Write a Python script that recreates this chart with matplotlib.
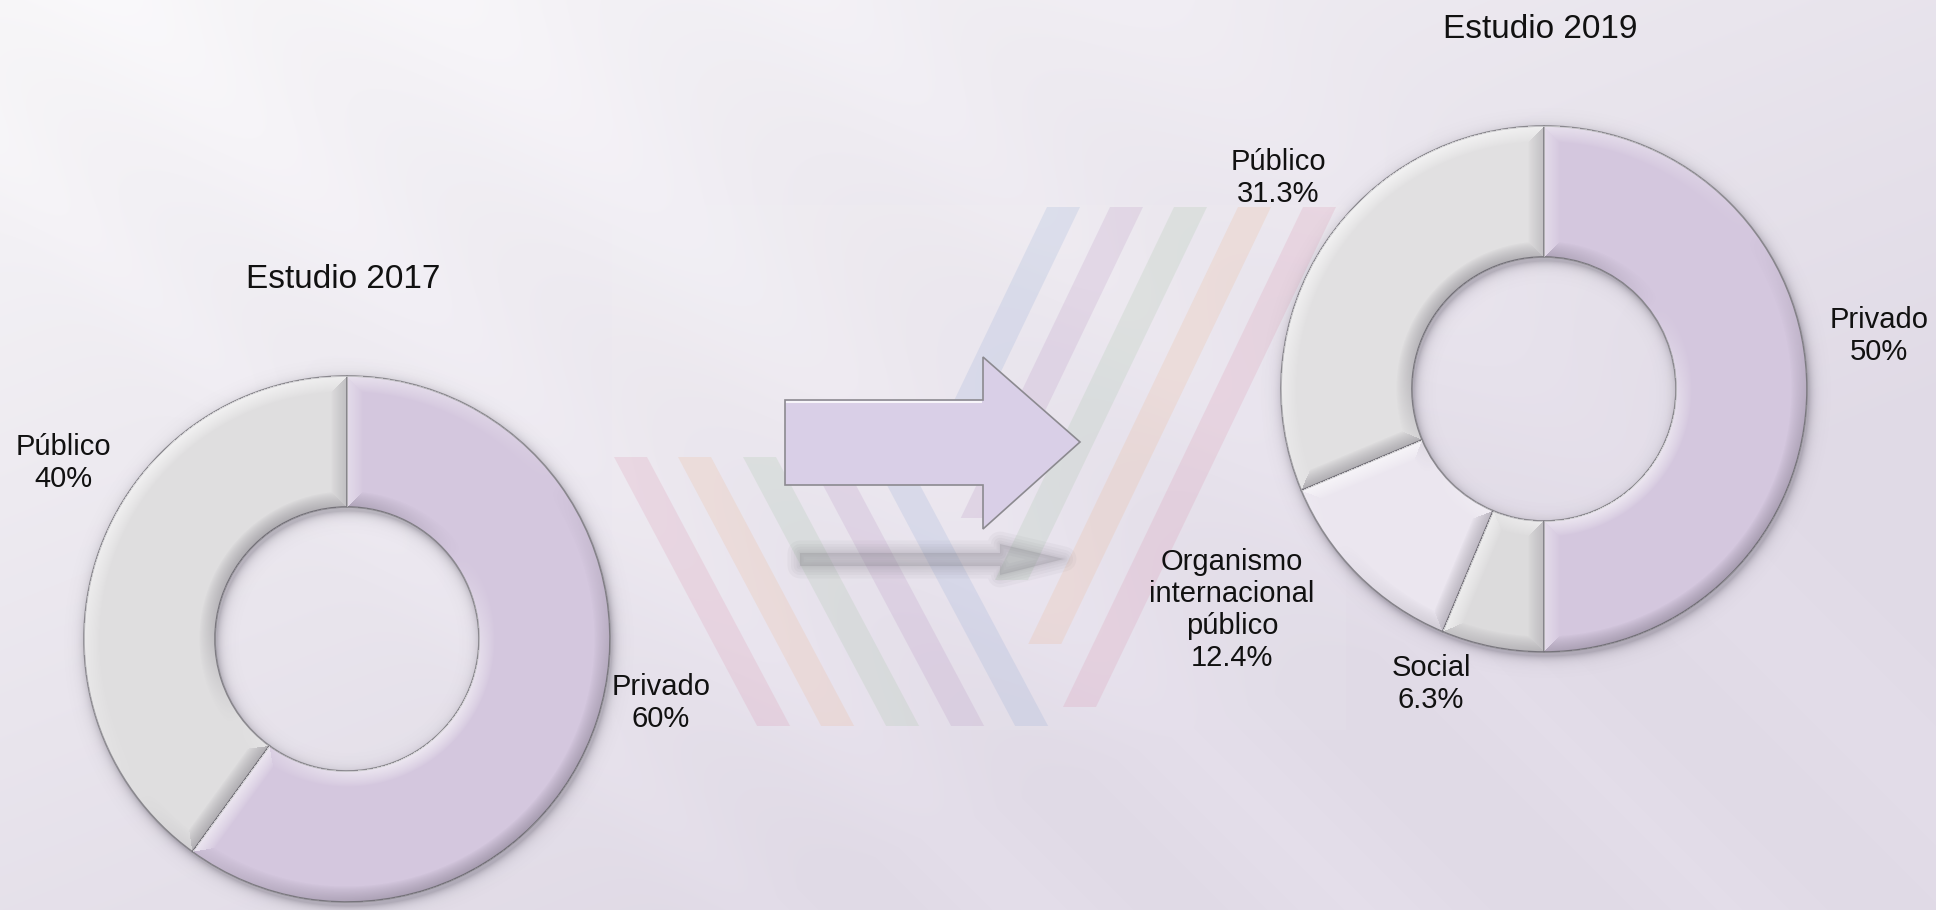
import numpy as np
import matplotlib
matplotlib.use("Agg")
import matplotlib.pyplot as plt
from matplotlib.patches import Polygon, Rectangle

W, H = 1936, 910

# shares by sector, per survey
cats_2017 = ["Privado", "Público"]
vals_2017 = [60, 40]
cats_2019 = ["Privado", "Social", "Organismo\ninternacional\npúblico", "Público"]
vals_2019 = [50, 6.3, 12.4, 31.3]
titles = ["Estudio 2017", "Estudio 2019"]

colors_2017 = ["#d4c7de", "#dfdedf"]
colors_2019 = ["#d4c7de", "#dcdbdc", "#ebe6ef", "#e1e0e1"]

# pastel stripe colours of the background motif
stripe_cols = [(0.85, 0.50, 0.62), (0.94, 0.67, 0.47), (0.58, 0.74, 0.58),
               (0.68, 0.50, 0.72), (0.50, 0.62, 0.82)]

plt.rcParams["font.family"] = ["Liberation Sans", "DejaVu Sans"]

fig = plt.figure(figsize=(W / 100, H / 100), dpi=100)
ax = fig.add_axes([0, 0, 1, 1])


def Y(y):
    # pixel rows run downwards, axes run upwards
    return H - y


# background: soft gradient with light diagonal sheen
yy, xx = np.mgrid[0:H, 0:W]
t = np.clip(0.65 * xx / W + 0.75 * yy / H, 0, 1)
c_top = np.array([247, 246, 248]) / 255
c_bot = np.array([224, 218, 230]) / 255
bg = c_top + (c_bot - c_top) * t[..., None]
d = yy - 1.0 * xx
for d0, w, a in [(-120, 90, 0.014), (-450, 110, 0.016), (-820, 90, 0.012),
                 (150, 60, 0.01), (-1150, 120, 0.01)]:
    bg += a * np.exp(-((d - d0) / w) ** 2)[..., None]
ax.imshow(np.clip(bg, 0, 1), extent=(0, W, 0, H), origin="upper", zorder=0, aspect="auto")

# faint backing panel of the stripe motif
ax.add_patch(Rectangle((612, Y(730)), 734, 525, facecolor="white", edgecolor="none",
                       alpha=0.06, zorder=1))


def stripe(x_top, y_top, y_bot, dx_per_px, width, col):
    h = y_bot - y_top
    pts = [(x_top, Y(y_top)), (x_top + width, Y(y_top)),
           (x_top + width + dx_per_px * h, Y(y_bot)), (x_top + dx_per_px * h, Y(y_bot))]
    ax.add_patch(Polygon(pts, closed=True, facecolor=col, edgecolor="none", alpha=0.17, zorder=1))


# "\" group, left of the arrow
for i, x0 in enumerate([614, 678, 743, 808, 872]):
    stripe(x0, 457, 726, 0.532, 33, stripe_cols[i])
# "/" group, right of the arrow
right_order = [4, 3, 2, 1, 0]
for i, (x0, yb) in enumerate(zip([1047, 1110, 1174, 1238, 1303], [455, 518, 580, 644, 707])):
    stripe(x0, 207, yb, -0.48, 33, stripe_cols[right_order[i]])

# arrow shadow (blurred by stacking soft strokes)
sh = [(800, 553), (1000, 553), (1000, 544), (1064, 559), (1000, 575), (1000, 566), (800, 566)]
sh = [(x, Y(y)) for x, y in sh]
for lw in [18, 13, 9, 5, 2]:
    ax.add_patch(Polygon(sh, closed=True, facecolor="none", edgecolor="#6e6c74",
                         lw=lw, alpha=0.05, joinstyle="round", zorder=2))
ax.add_patch(Polygon(sh, closed=True, facecolor="#7a7880", edgecolor="none", alpha=0.22, zorder=2))

# arrow
arr = [(785, 400), (983, 400), (983, 357), (1080, 442), (983, 529), (983, 485), (785, 485)]
ax.add_patch(Polygon([(x, Y(y)) for x, y in arr], closed=True, facecolor="#d9cfe7",
                     edgecolor="#8c8a90", lw=1.2, zorder=3))
ax.plot([787, 981], [Y(402), Y(402)], color="white", lw=1.5, alpha=0.8, zorder=3)

LIGHT = np.array([-0.6, 0.8])


def ring_grid(cx, cy, R, pad=24):
    x0, x1 = max(int(cx - R - pad), 0), min(int(cx + R + pad), W)
    y0, y1 = max(int(cy - R - pad), 0), min(int(cy + R + pad), H)
    gx, gy = np.meshgrid(np.arange(x0, x1) + 0.5, np.arange(y0, y1) + 0.5)
    return (x0, x1, y0, y1), gx - cx, cy - gy


def donut(vals, colors, center_px, R=263, RW=131, b=16):
    cx, cy = center_px
    r_in = R - RW

    # drop shadow below the ring, offset down-right
    box, dx, dy = ring_grid(cx + 2, cy + 4, R)
    rs = np.hypot(dx, dy)
    dist = np.maximum.reduce([rs - R, r_in - rs, np.zeros_like(rs)])
    sh_img = np.zeros(rs.shape + (4,))
    sh_img[..., :3] = (0.28, 0.26, 0.32)
    sh_img[..., 3] = 0.32 * np.exp(-dist / 5.0)
    ext = (box[0], box[1], Y(box[3]), Y(box[2]))
    ax.imshow(sh_img, extent=ext, origin="upper", zorder=4, aspect="auto", interpolation="bilinear")

    wedges, _ = ax.pie(vals, colors=colors, startangle=90, counterclock=False,
                       radius=R, center=(cx, Y(cy)), frame=True,
                       wedgeprops=dict(width=RW, edgecolor="#8a888e", linewidth=1.2))
    for wdg in wedges:
        wdg.set_zorder(5)

    # bevel lit from the upper left: nearest edge decides the facet normal
    box, dx, dy = ring_grid(cx, cy, R)
    r = np.hypot(dx, dy) + 1e-9
    ux, uy = dx / r, dy / r
    th = np.arctan2(dy, dx)
    dists, nxs, nys = [R - r, r - r_in], [ux, -ux], [uy, -uy]
    cum = np.cumsum([0] + list(vals)) / sum(vals)
    for frac in cum[:-1]:
        p = np.radians(90 - 360 * frac)
        perp = r * np.sin(th - p)
        along = r * np.cos(th - p)
        dists.append(np.where(along > 0, np.abs(perp), np.inf))
        sgn = np.where(perp >= 0, 1.0, -1.0)
        nxs.append(sgn * np.sin(p))
        nys.append(-sgn * np.cos(p))
    D = np.stack(dists)
    k = np.argmin(D, axis=0)[None]
    dmin = np.take_along_axis(D, k, 0)[0]
    nx = np.take_along_axis(np.stack(nxs), k, 0)[0]
    ny = np.take_along_axis(np.stack(nys), k, 0)[0]
    ring = (r <= R) & (r >= r_in)
    tt = np.clip(1 - dmin / b, 0, 1) ** 0.8
    s = (nx * LIGHT[0] + ny * LIGHT[1]) * tt * ring
    img = np.zeros(r.shape + (4,))
    pos = s > 0
    img[pos, :3] = 1.0
    img[pos, 3] = s[pos] * 0.6
    img[~pos, :3] = (0.25, 0.23, 0.28)
    img[~pos, 3] = -s[~pos] * 0.32
    ext = (box[0], box[1], Y(box[3]), Y(box[2]))
    ax.imshow(img, extent=ext, origin="upper", zorder=6, aspect="auto", interpolation="bilinear")
    return wedges


donut(vals_2017, colors_2017, (347, 639))
donut(vals_2019, colors_2019, (1544, 389))

# titles
ax.text(343, Y(279), titles[0], ha="center", va="center", fontsize=24, color="#111111", zorder=8)
ax.text(1540, Y(30), titles[1], ha="center", va="center", fontsize=24, color="#111111", zorder=8)

# data labels
pos_2017 = [(661, 703), (63, 463)]
pos_2019 = [(1879, 336), (1431, 684), (1232, 610), (1278, 178)]
for cats, vals, pos in [(cats_2017, vals_2017, pos_2017), (cats_2019, vals_2019, pos_2019)]:
    for cat, v, (x, y) in zip(cats, vals, pos):
        ax.text(x, Y(y), f"{cat}\n{v:g}%", ha="center", va="center", fontsize=21,
                color="#111111", linespacing=1.17, zorder=8)

ax.set_aspect("equal")
ax.set_xlim(0, W)
ax.set_ylim(0, H)
ax.axis("off")
fig.savefig("out.png", dpi=100)
